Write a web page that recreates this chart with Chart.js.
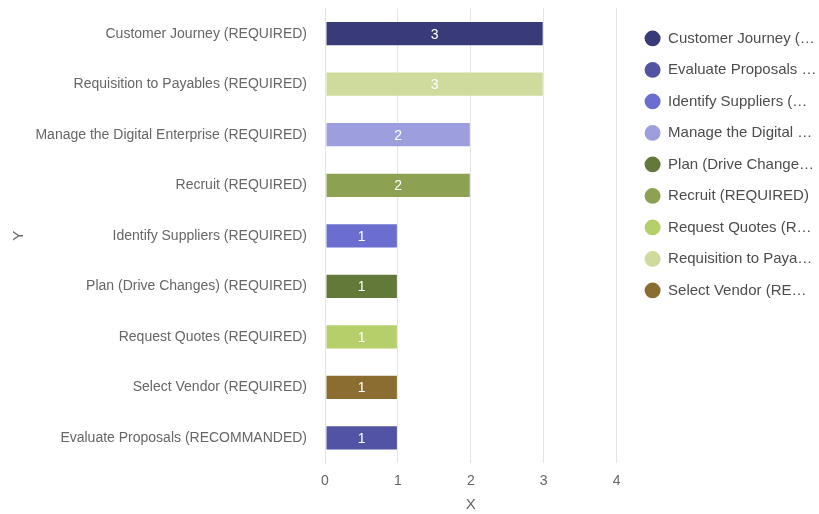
<!DOCTYPE html>
<html><head><meta charset="utf-8">
<script src="https://cdn.jsdelivr.net/npm/chart.js@4/dist/chart.umd.min.js"></script>
<style>html,body{margin:0;padding:0;background:#fff}#wrap{width:819px;height:514px}</style>
</head><body><div id="wrap"><canvas id="c" width="819" height="514"></canvas></div>
<script>
const categories = ["Customer Journey (REQUIRED)","Requisition to Payables (REQUIRED)","Manage the Digital Enterprise (REQUIRED)","Recruit (REQUIRED)","Identify Suppliers (REQUIRED)","Plan (Drive Changes) (REQUIRED)","Request Quotes (REQUIRED)","Select Vendor (REQUIRED)","Evaluate Proposals (RECOMMANDED)"];
const values = [3,3,2,2,1,1,1,1,1];
const seriesNames = ["Customer Journey (REQUIRED)","Evaluate Proposals (RECOMMANDED)","Identify Suppliers (REQUIRED)","Manage the Digital Enterprise (REQUIRED)","Plan (Drive Changes) (REQUIRED)","Recruit (REQUIRED)","Request Quotes (REQUIRED)","Requisition to Payables (REQUIRED)","Select Vendor (REQUIRED)"];
const seriesColors = ["#393b79","#5254a3","#6b6ecf","#9c9ede","#637939","#8ca252","#b5cf6b","#cedb9c","#8c6d31"];
const xTicks = [0,1,2,3,4];

const FONT = "'Liberation Sans', Arial, sans-serif";
const datasets = seriesNames.map((s,i)=>({
  label: s,
  data: categories.map((c,j)=> c===s ? values[j] : null),
  backgroundColor: seriesColors[i],
  borderColor: 'rgba(255,255,255,0.25)',
  borderWidth: 1,
  borderSkipped: false,
  categoryPercentage: 1,
  barPercentage: 0.5
}));

const measureCtx = document.createElement('canvas').getContext('2d');
function truncate(text, maxW, font){
  measureCtx.font = font;
  if (measureCtx.measureText(text).width <= maxW) return text;
  let t = text;
  while (t.length && measureCtx.measureText(t + '…').width > maxW) t = t.slice(0,-1);
  return t + '…';
}

const valueLabels = {
  id: 'valueLabels',
  afterDatasetsDraw(chart){
    const ctx = chart.ctx;
    ctx.save();
    ctx.font = "14px " + FONT;
    ctx.fillStyle = '#fff';
    ctx.textAlign = 'center';
    ctx.textBaseline = 'middle';
    chart.data.datasets.forEach((ds,di)=>{
      const meta = chart.getDatasetMeta(di);
      meta.data.forEach((bar,j)=>{
        const v = ds.data[j];
        if (v==null) return;
        const p = bar.getProps(['x','y','base'], true);
        ctx.fillText(String(v), (p.x+p.base)/2, p.y+1);
      });
    });
    ctx.restore();
  }
};

// legend placement tweak: reserve a bit more width and shift content right
const legendShift = {
  id: 'legendShift',
  beforeLayout(chart){
    const lg = chart.legend;
    if (lg && !lg._wrapped){
      const orig = lg.fit;
      lg.fit = function(){ orig.call(this); this.width += 2; };
      lg._wrapped = true;
    }
  },
  afterLayout(chart){
    const lg = chart.legend;
    if (lg){ lg.left += 11.5; lg.right += 11.5; }
  }
};

new Chart(document.getElementById('c'), {
  type: 'bar',
  data: { labels: categories, datasets },
  plugins: [valueLabels, legendShift],
  options: {
    indexAxis: 'y',
    responsive: false,
    animation: false,
    layout: { padding: { top: 0, right: 2, left: 10, bottom: 0 } },
    plugins: {
      tooltip: { enabled: false },
      legend: {
        position: 'right',
        align: 'start',
        title: { display: true, text: ' ', font: { size: 2 }, padding: { top: 0, bottom: 12 } },
        labels: {
          usePointStyle: true,
          pointStyle: 'circle',
          boxWidth: 11, boxHeight: 11,
          pointStyleWidth: 16,
          padding: 16.5,
          color: '#4d4d4d',
          font: { family: FONT, size: 15 },
          generateLabels(chart){
            const base = Chart.defaults.plugins.legend.labels.generateLabels(chart);
            return base.map(l=>Object.assign(l,{text: truncate(l.text, 150, "15px " + FONT), lineWidth:0, strokeStyle:l.fillStyle}));
          }
        }
      }
    },
    scales: {
      x: {
        stacked: true,
        min: 0, max: 4,
        afterBuildTicks(axis){ axis.ticks = xTicks.map(v=>({value:v})); },
        grid: { color: '#e3e3e8', drawTicks: false },
        border: { display: false },
        ticks: { color: '#666', font: { family: FONT, size: 14 }, padding: 10 },
        title: { display: true, text: 'X', color: '#666', font: { family: FONT, size: 15 }, padding: { top: -4, bottom: 0 } }
      },
      y: {
        stacked: true,
        afterFit(scale){ scale.width = 315; },
        grid: { display: false, tickLength: 18 },
        border: { display: true, color: '#dde0ee' },
        ticks: { color: '#666', font: { family: FONT, size: 14 }, padding: 0 },
        title: { display: true, text: 'Y', color: '#666', font: { family: FONT, size: 15 }, padding: 0 }
      }
    }
  }
});
</script></body></html>
